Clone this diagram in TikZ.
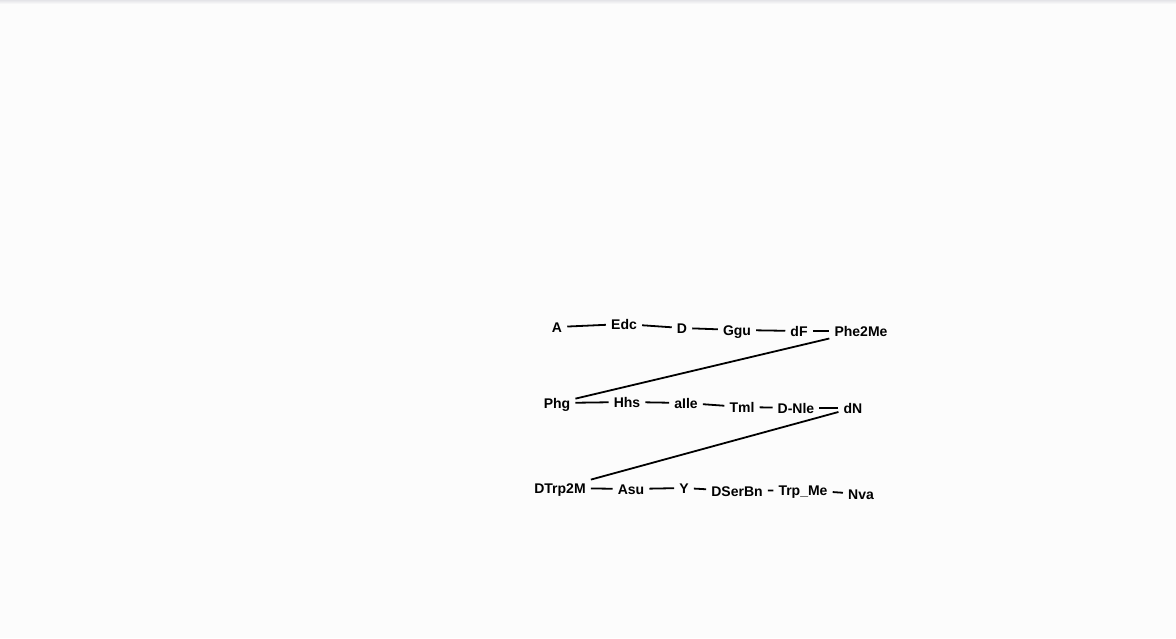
\documentclass[tikz,border=0pt]{standalone}
\usepackage{fontspec}
\setmainfont{Liberation Sans}
\definecolor{bgc}{RGB}{252,252,252}
\definecolor{topc}{RGB}{228,228,232}
\tikzset{
  aa/.style={font=\fontsize{14}{16}\selectfont\bfseries, text=black, inner sep=5pt, text height=10pt, text depth=0pt},
  link/.style={draw=black, line width=1.8pt}
}
\begin{document}
\begin{tikzpicture}[x=1pt,y=-1pt]
\fill[bgc] (0,0) rectangle (1176,638);
\shade[top color=topc, bottom color=bgc] (0,0) rectangle (1176,4);
\useasboundingbox (0,0) rectangle (1176,638);
% row 1
\node[aa] (A) at (557,327) {A};
\node[aa] (Edc) at (624,324) {Edc};
\node[aa] (D) at (682,328) {D};
\node[aa] (Ggu) at (737,330) {Ggu};
\node[aa] (dF) at (799,331) {dF};
\node[aa] (Phe) at (861,331) {Phe2Me};
% row 2
\node[aa] (Phg) at (557,403) {Phg};
\node[aa] (Hhs) at (627,402) {Hhs};
\node[aa] (aIle) at (686,403) {aIle};
\node[aa] (Tml) at (742,407) {Tml};
\node[aa] (DNle) at (796,408) {D-Nle};
\node[aa] (dN) at (853,408) {dN};
% row 3
\node[aa] (DTrp) at (560,488) {DTrp2M};
\node[aa] (Asu) at (631,489) {Asu};
\node[aa] (Y) at (684,488) {Y};
\node[aa] (DSer) at (737,491) {DSerBn};
\node[aa] (TrpMe) at (803,490) {Trp\_Me};
\node[aa] (Nva) at (861,494) {Nva};
% links
\draw[link] (A) -- (Edc);
\draw[link] (Edc) -- (D);
\draw[link] (D) -- (Ggu);
\draw[link] (Ggu) -- (dF);
\draw[link] (dF) -- (Phe);
\draw[link] (Phe) -- (Phg);
\draw[link] (Phg) -- (Hhs);
\draw[link] (Hhs) -- (aIle);
\draw[link] (aIle) -- (Tml);
\draw[link] (Tml) -- (DNle);
\draw[link] (DNle) -- (dN);
\draw[link] (dN) -- (DTrp);
\draw[link] (DTrp) -- (Asu);
\draw[link] (Asu) -- (Y);
\draw[link] (Y) -- (DSer);
\draw[link] (DSer) -- (TrpMe);
\draw[link] (TrpMe) -- (Nva);
\end{tikzpicture}
\end{document}
